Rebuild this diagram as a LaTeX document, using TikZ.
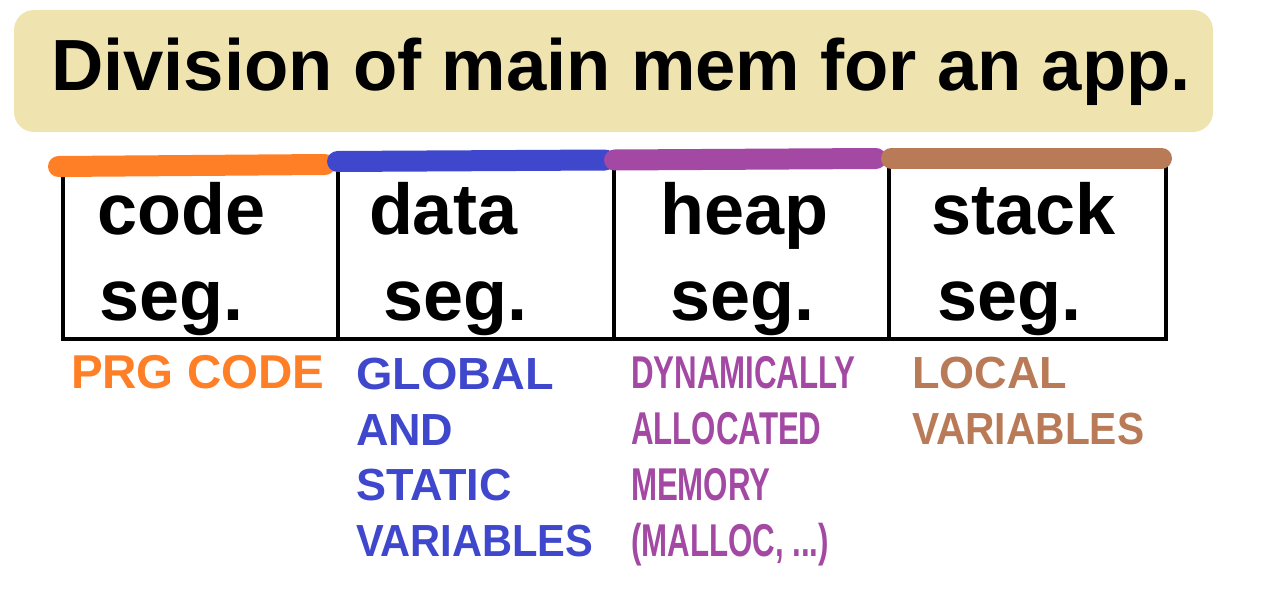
\documentclass[tikz,border=0pt]{standalone}
\usepackage{fontspec}
\setmainfont{Liberation Sans}
\newfontfamily\narrowfont[FakeStretch=0.68]{Liberation Sans}
\definecolor{corange}{HTML}{FF7F27}
\definecolor{cblue}{HTML}{3F48CC}
\definecolor{cpurple}{HTML}{A349A4}
\definecolor{cbrown}{HTML}{B97A57}
\definecolor{ctitle}{HTML}{EFE4B0}
\tikzset{
  txt/.style={inner sep=0pt, outer sep=0pt, anchor=base west, align=left},
  segtxt/.style={txt, font=\fontsize{72}{86}\selectfont\bfseries},
  lbl/.style={txt, font=\fontsize{45}{55.5}\selectfont\bfseries},
  nlbl/.style={txt, font=\fontsize{46}{56}\selectfont\narrowfont\bfseries},
  edge/.style={line width=4pt, black},
  bar/.style={line width=21pt, line cap=round},
}
\begin{document}
\begin{tikzpicture}[x=1pt,y=-1pt]
\useasboundingbox (0,0) rectangle (1265,599);
% title
\node[draw=none, fill=ctitle, rounded corners=20pt, minimum width=1199pt, minimum height=122pt, inner sep=0pt] (title) at (613.5,71) {};
\node[txt, font=\fontsize{72.5}{80}\selectfont\bfseries] (titletext) at (51,91) {Division of main mem for an app.};
% frame coordinates
\coordinate (t0) at (63,170); \coordinate (b0) at (63,339);
\coordinate (t1) at (338,168); \coordinate (b1) at (338,339);
\coordinate (t2) at (614,166); \coordinate (b2) at (614,339);
\coordinate (t3) at (889,165); \coordinate (b3) at (889,339);
\coordinate (t4) at (1166,165); \coordinate (b4) at (1166,339);
\draw[edge] (t0) -- (b0);
\draw[edge] (t1) -- (b1);
\draw[edge] (t2) -- (b2);
\draw[edge] (t3) -- (b3);
\draw[edge] (t4) -- (b4);
\draw[edge, line cap=rect] (b0) -- (b4);
% coloured top bars
\coordinate (o1) at (58.5,166.5); \coordinate (o2) at (325,164.5);
\coordinate (u1) at (337.5,161.5); \coordinate (u2) at (605,160);
\coordinate (p1) at (614.5,160); \coordinate (p2) at (876,158.5);
\coordinate (r1) at (891.5,158); \coordinate (r2) at (1161.5,158);
\draw[bar, corange] (o1) -- (o2);
\draw[bar, cblue] (u1) -- (u2);
\draw[bar, cpurple] (p1) -- (p2);
\draw[bar, cbrown] (r1) -- (r2);
% segment names (anchor = baseline of last line)
\node[segtxt] (code) at (97,320) {code\\[0pt]\hspace*{2pt}seg.};
\node[segtxt] (data) at (369,320) {data\\[0pt]\hspace*{14pt}seg.};
\node[segtxt] (heap) at (660,320) {heap\\[0pt]\hspace*{10pt}seg.};
\node[segtxt] (stack) at (931,320) {stack\\[0pt]\hspace*{6pt}seg.};
% descriptions
\node[lbl, font=\fontsize{47.5}{55.5}\selectfont\bfseries, text=corange] (prg) at (71,388) {PRG CODE};
\node[lbl, text=cblue] (glob) at (356,556) {\scalebox{1.04}[1]{GLOBAL}\\AND\\STATIC\\\scalebox{0.925}[1]{VARIABLES}};
\node[nlbl, text=cpurple] (dyn) at (631,556) {DYNAMICALLY\\ALLOCATED\\MEMORY\\(MALLOC, ...)};
\node[lbl, text=cbrown] (loc) at (912,444) {LOCAL\\\scalebox{0.905}[1]{VARIABLES}};
\end{tikzpicture}
\end{document}
